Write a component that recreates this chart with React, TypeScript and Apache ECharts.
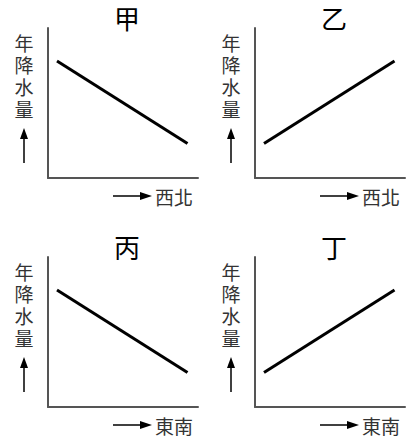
import React, { useEffect, useRef } from "react";
import * as echarts from "echarts";

const panelTitles = ["甲", "乙", "丙", "丁"];
const directionLabels = ["西北", "西北", "東南", "東南"];
const yAxisLabel = "年降水量";
// each panel: line from start to end (x, precipitation) on a 0-10 scale
const startX = [0.6, 0.6, 0.6, 0.6];
const endX = [9.3, 9.3, 9.3, 9.3];
const startY = [7.8, 2.3, 7.8, 2.3];
const endY = [2.3, 7.8, 2.3, 7.8];

const FONT = '"Noto Sans CJK TC", "Noto Sans CJK SC", sans-serif';

export default function App() {
  const ref = useRef<HTMLDivElement>(null);
  useEffect(() => {
    if (!ref.current) return;
    const chart = echarts.init(ref.current, undefined, { renderer: "svg" });
    const lefts = [48, 255, 48, 255];
    const tops = [28, 28, 257, 257];
    const W = 150;
    const H = 150;
    const grids = lefts.map((l, i) => ({ left: l, top: tops[i], width: W, height: H }));
    const axisCommon = {
      type: "value",
      min: 0,
      max: 10,
      axisLine: { show: true, onZero: false, lineStyle: { color: "#555", width: 2 } },
      axisTick: { show: false },
      axisLabel: { show: false },
      splitLine: { show: false },
    };
    const xAxes = grids.map((_, i) => ({ ...axisCommon, gridIndex: i }));
    const yAxes = grids.map((_, i) => ({ ...axisCommon, gridIndex: i }));
    const series = grids.map((_, i) => ({
      type: "line",
      xAxisIndex: i,
      yAxisIndex: i,
      data: [
        [startX[i], startY[i]],
        [endX[i], endY[i]],
      ],
      symbol: "none",
      lineStyle: { color: "#000", width: 3 },
    }));
    const graphic: any[] = [];
    grids.forEach((_, i) => {
      const l = lefts[i];
      const t = tops[i];
      // title
      graphic.push({
        type: "text",
        x: l + 79,
        y: t - 11,
        style: {
          text: panelTitles[i],
          font: `26px ${FONT}`,
          fill: "#000",
          align: "center",
          verticalAlign: "middle",
        },
      });
      // vertical y label, one character per element
      yAxisLabel.split("").forEach((ch, k) => {
        graphic.push({
          type: "text",
          x: l - 24,
          y: t + 14 + k * 22,
          style: {
            text: ch,
            font: `19px ${FONT}`,
            fill: "#333",
            align: "center",
            verticalAlign: "middle",
          },
        });
      });
      // up arrow
      graphic.push({
        type: "line",
        shape: { x1: l - 24, y1: t + 135, x2: l - 24, y2: t + 108 },
        style: { stroke: "#000", lineWidth: 1.5 },
      });
      graphic.push({
        type: "polygon",
        shape: { points: [[l - 24, t + 100], [l - 28, t + 111], [l - 20, t + 111]] },
        style: { fill: "#000" },
      });
      // right arrow
      const ay = t + H + 18;
      graphic.push({
        type: "line",
        shape: { x1: l + 65, y1: ay, x2: l + 94, y2: ay },
        style: { stroke: "#000", lineWidth: 1.5 },
      });
      graphic.push({
        type: "polygon",
        shape: { points: [[l + 104, ay], [l + 92, ay - 4], [l + 92, ay + 4]] },
        style: { fill: "#000" },
      });
      graphic.push({
        type: "text",
        x: l + 107,
        y: ay,
        style: {
          text: directionLabels[i],
          font: `19px ${FONT}`,
          fill: "#333",
          align: "left",
          verticalAlign: "middle",
        },
      });
    });
    chart.setOption({
      animation: false,
      backgroundColor: "#fff",
      grid: grids,
      xAxis: xAxes,
      yAxis: yAxes,
      series,
      graphic,
    });
    return () => chart.dispose();
  }, []);
  return <div ref={ref} style={{ width: 414, height: 437, position: "absolute", left: 0, top: 0 }} />;
}
